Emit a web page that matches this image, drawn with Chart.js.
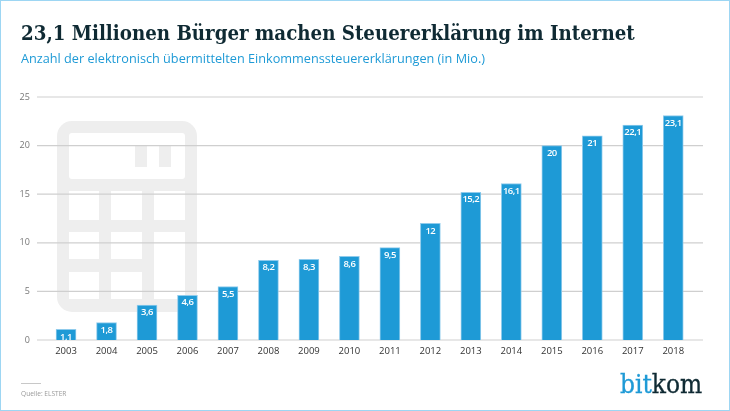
<!DOCTYPE html>
<html>
<head>
<meta charset="utf-8">
<script src="https://cdn.jsdelivr.net/npm/chart.js@4/dist/chart.umd.js"></script>
<style>
  html, body { margin: 0; padding: 0; background: #fff; }
  #wrap { position: relative; width: 730px; height: 411px; overflow: hidden; }
  #frame { position: absolute; left: 0; top: 0; width: 730px; height: 411px; box-sizing: border-box; border: 1px solid #9dd6f3; border-left-width: 1.5px; pointer-events: none; }
  canvas { position: absolute; left: 0; top: 0; }
  .txt { position: absolute; white-space: nowrap; }
  #title { left: 21px; top: 21px; font: bold 20.3px "DejaVu Serif"; font-stretch: condensed; color: #0f2a33; }
  #subtitle { left: 21px; top: 49px; font: 12.7px "Open Sans"; color: #1e9ad6; }
  #rule { position: absolute; left: 21px; top: 383px; width: 20px; height: 1px; background: #c8c8c8; }
  #source { left: 21px; top: 389px; font: 6.6px "Open Sans"; color: #999; }
  #logo { left: 620px; top: 369px; font: 26px "DejaVu Serif"; font-stretch: condensed; color: #0f2a33; -webkit-text-stroke: 0.3px; }
  #logo span { color: #1e9ad6; }
</style>
</head>
<body>
<div id="wrap">
  <canvas id="chart" width="730" height="411"></canvas>
  <div class="txt" id="title">23,1 Millionen Bürger machen Steuererklärung im Internet</div>
  <div class="txt" id="subtitle">Anzahl der elektronisch übermittelten Einkommenssteuererklärungen (in Mio.)</div>
  <div id="rule"></div>
  <div class="txt" id="source">Quelle: ELSTER</div>
  <div class="txt" id="logo"><span>bit</span>kom</div>
  <div id="frame"></div>
</div>
<script>
const years = ['2003','2004','2005','2006','2007','2008','2009','2010','2011','2012','2013','2014','2015','2016','2017','2018'];
const filings = [1.1,1.8,3.6,4.6,5.5,8.2,8.3,8.6,9.5,12,15.2,16.1,20,21,22.1,23.1];

const blue = '#1e9ad6';

// calculator watermark behind the bars, gridlines go over it
const backdrop = {
  id: 'backdrop',
  beforeDatasetsDraw(chart) {
    const c = chart.ctx;
    c.save();
    c.fillStyle = '#eeeeee';
    c.beginPath();
    c.roundRect(57, 121, 140, 191, 15);
    c.fill();
    c.fillStyle = '#fff';
    c.beginPath();
    c.roundRect(69, 133, 116, 46, 3);
    c.fill();
    const cells = [
      [69, 191, 30, 29], [111, 191, 31, 29], [154, 191, 31, 29],
      [69, 232, 30, 27], [111, 232, 31, 27], [154, 232, 31, 67],
      [69, 272, 30, 27], [111, 272, 31, 27]
    ];
    cells.forEach(k => c.fillRect(k[0], k[1], k[2], k[3]));
    c.fillStyle = '#eeeeee';
    c.fillRect(135, 145, 12, 22);
    c.fillRect(159, 145, 12, 22);
    c.restore();

    // gridlines run past the plot area on both sides
    const y = chart.scales.y;
    c.save();
    c.strokeStyle = '#cfcfcf';
    c.lineWidth = 1.2;
    y.ticks.forEach(t => {
      const py = y.getPixelForValue(t.value);
      c.beginPath();
      c.moveTo(37, py);
      c.lineTo(703, py);
      c.stroke();
    });
    c.restore();
  }
};

const barLabels = {
  id: 'barLabels',
  afterDatasetsDraw(chart) {
    const c = chart.ctx;
    const meta = chart.getDatasetMeta(0);
    c.save();
    c.fillStyle = '#fff';
    c.font = '600 9.5px "Open Sans"';
    c.letterSpacing = '-0.5px';
    c.textAlign = 'center';
    c.textBaseline = 'middle';
    meta.data.forEach((bar, i) => {
      c.fillText(String(filings[i]).replace('.', ','), bar.x, bar.y + 7.5);
    });
    c.restore();
  }
};

new Chart(document.getElementById('chart'), {
  type: 'bar',
  data: {
    labels: years,
    datasets: [{
      data: filings,
      backgroundColor: blue,
      borderColor: '#8fcbec',
      borderWidth: 1,
      barThickness: 20
    }]
  },
  plugins: [backdrop, barLabels],
  options: {
    responsive: false,
    animation: false,
    layout: { padding: { top: 97, right: 36.5, left: 0, bottom: 0 } },
    plugins: { legend: { display: false }, tooltip: { enabled: false } },
    scales: {
      x: {
        grid: { display: false, drawTicks: false },
        border: { display: false },
        ticks: { color: '#333', font: { family: 'Open Sans', size: 9.5 }, padding: 6, maxRotation: 0 },
        afterFit(s) { s.height = 71; }
      },
      y: {
        min: 0,
        max: 25,
        grid: { display: false, drawTicks: false },
        border: { display: false },
        ticks: { stepSize: 5, color: '#777', font: { family: 'Open Sans', size: 9 }, padding: 16 },
        afterFit(s) { s.width = 45.8; }
      }
    }
  }
});
</script>
</body>
</html>
